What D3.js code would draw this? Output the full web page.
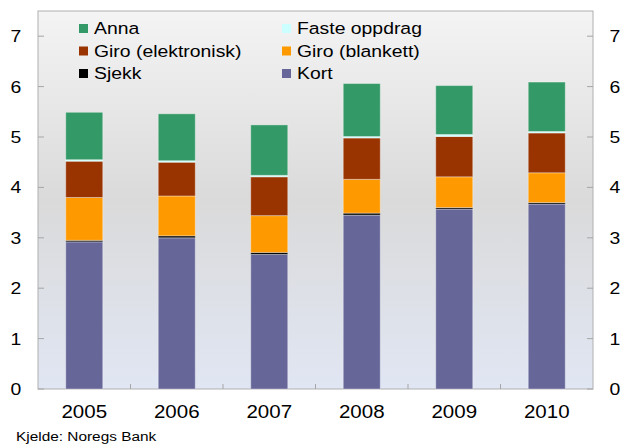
<!DOCTYPE html>
<html>
<head>
<meta charset="utf-8">
<script src="https://cdn.jsdelivr.net/npm/d3@7"></script>
<style>
  body { margin: 0; background: #fff; }
  text { font-family: "Liberation Sans", Arial, sans-serif; fill: #000; }
</style>
</head>
<body>
<svg></svg>
<script>
//* Betalingsinstrument per år, stabla søyler
const years = ["2005", "2006", "2007", "2008", "2009", "2010"];
const seriesNames = ["Kort", "Sjekk", "Giro (blankett)", "Giro (elektronisk)", "Faste oppdrag", "Anna"];

const kort = [2.92, 3.00, 2.67, 3.45, 3.57, 3.67];
const sjekk = [0.03, 0.04, 0.04, 0.04, 0.03, 0.03];
const giroBlankett = [0.85, 0.79, 0.73, 0.67, 0.61, 0.59];
const giroElektronisk = [0.72, 0.67, 0.77, 0.82, 0.80, 0.79];
const fasteOppdrag = [0.03, 0.03, 0.03, 0.03, 0.04, 0.03];
const anna = [0.94, 0.93, 1.00, 1.05, 0.97, 0.98];

const yTicks = [0, 1, 2, 3, 4, 5, 6, 7];
const source = "Kjelde: Noregs Bank";

const colors = {
  "Kort": "#666699",
  "Sjekk": "#000000",
  "Giro (blankett)": "#ff9900",
  "Giro (elektronisk)": "#993300",
  "Faste oppdrag": "#ccffff",
  "Anna": "#339966"
};

// legend order as in the original (two columns)
const legendOrder = ["Anna", "Faste oppdrag", "Giro (elektronisk)", "Giro (blankett)", "Sjekk", "Kort"];

const width = 621;
const height = 445;
const plot = { left: 38, right: 593, top: 11, bottom: 389 };
const stretch = 1.14; // text in the original is a bit wide

const table = years.map((y, i) => ({
  year: y,
  "Kort": kort[i],
  "Sjekk": sjekk[i],
  "Giro (blankett)": giroBlankett[i],
  "Giro (elektronisk)": giroElektronisk[i],
  "Faste oppdrag": fasteOppdrag[i],
  "Anna": anna[i]
}));

const stacked = d3.stack().keys(seriesNames)(table);

const x = d3.scaleBand()
  .domain(years)
  .range([plot.left, plot.right])
  .paddingInner(0.6)
  .paddingOuter(0.3);

const y = d3.scaleLinear()
  .domain([0, 7.5])
  .range([plot.bottom, plot.top]);

const svg = d3.select("svg")
  .attr("width", width)
  .attr("height", height);

const defs = svg.append("defs");
const grad = defs.append("linearGradient")
  .attr("id", "bg")
  .attr("x1", 0).attr("y1", 0)
  .attr("x2", 0).attr("y2", 1);
grad.append("stop").attr("offset", "0%").attr("stop-color", "#f4f4f4");
grad.append("stop").attr("offset", "50%").attr("stop-color", "#dadada");
grad.append("stop").attr("offset", "100%").attr("stop-color", "#e0e6f3");

svg.append("rect")
  .attr("x", plot.left)
  .attr("y", plot.top)
  .attr("width", plot.right - plot.left)
  .attr("height", plot.bottom - plot.top)
  .attr("fill", "url(#bg)")
  .attr("stroke", "#b0b0b0")
  .attr("stroke-width", 1);

function label(sel, px, py, anchor, size) {
  return sel.append("text")
    .attr("transform", `translate(${px},${py}) scale(${stretch},1)`)
    .attr("text-anchor", anchor)
    .attr("font-size", size);
}

// y ticks, both sides, pointing inward
yTicks.forEach(t => {
  svg.append("line")
    .attr("x1", plot.left).attr("x2", plot.left + 6)
    .attr("y1", y(t)).attr("y2", y(t))
    .attr("stroke", "#a6a6a6");
  svg.append("line")
    .attr("x1", plot.right - 6).attr("x2", plot.right)
    .attr("y1", y(t)).attr("y2", y(t))
    .attr("stroke", "#a6a6a6");
  label(svg, 16, y(t) + 6, "middle", 17).text(t);
  label(svg, 615, y(t) + 6, "middle", 17).text(t);
});

// x ticks between categories
years.slice(1).forEach(yr => {
  const bx = x(yr) - x.step() * x.paddingInner() / 2;
  svg.append("line")
    .attr("x1", bx).attr("x2", bx)
    .attr("y1", plot.bottom).attr("y2", plot.bottom - 5)
    .attr("stroke", "#a6a6a6");
});

years.forEach(yr => {
  label(svg, x(yr) + x.bandwidth() / 2, 418, "middle", 18).text(yr);
});

// bars
svg.append("g")
  .selectAll("g")
  .data(stacked)
  .join("g")
    .attr("fill", d => colors[d.key])
  .selectAll("rect")
  .data(d => d)
  .join("rect")
    .attr("x", d => x(d.data.year))
    .attr("y", d => y(d[1]))
    .attr("width", x.bandwidth())
    .attr("height", d => y(d[0]) - y(d[1]))
    .attr("stroke", "rgba(255,255,255,0.35)")
    .attr("stroke-width", 1);

// legend
const legend = svg.append("g");
legendOrder.forEach((name, i) => {
  const col = i % 2;
  const row = Math.floor(i / 2);
  const lx = col === 0 ? 79 : 282;
  const ly = 34 + row * 22.5;
  legend.append("rect")
    .attr("x", lx)
    .attr("y", ly - 10)
    .attr("width", 9)
    .attr("height", 9)
    .attr("fill", colors[name]);
  label(legend, lx + 15, ly, "start", 17).text(name);
});

label(svg, 16, 441, "start", 13.5).text(source);
</script>
</body>
</html>
